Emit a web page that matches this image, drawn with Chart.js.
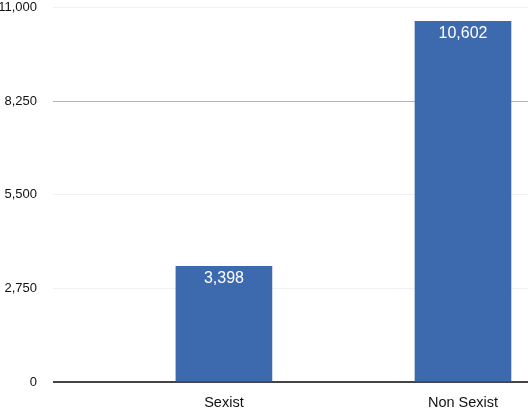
<!DOCTYPE html>
<html>
<head>
<meta charset="utf-8">
<script src="https://cdn.jsdelivr.net/npm/chart.js@4"></script>
<style>
    html, body { margin: 0; padding: 0; background: #fff; }
    #wrap { width: 530px; height: 408px; }
</style>
</head>
<body>
<div id="wrap"><canvas id="chart"></canvas></div>
<script>
    const categories = ['Sexist', 'Non Sexist'];
    const counts = [3398, 10602];
    const yTicks = [0, 2750, 5500, 8250, 11000];

    const barColor = '#3d6aae';
    const fontFamily = '"Liberation Sans", Arial, sans-serif';

    // white value label drawn just inside the top of each bar
    const valueLabels = {
        id: 'valueLabels',
        afterDatasetsDraw(chart) {
            const ctx = chart.ctx;
            const meta = chart.getDatasetMeta(0);
            ctx.save();
            ctx.fillStyle = '#fff';
            ctx.font = '16px ' + fontFamily;
            ctx.textAlign = 'center';
            ctx.textBaseline = 'middle';
            meta.data.forEach((bar, i) => {
                ctx.fillText(counts[i].toLocaleString('en-US'), bar.x, bar.y + 12);
            });
            ctx.restore();
        }
    };

    const ctx = document.getElementById('chart').getContext('2d');
    new Chart(ctx, {
        type: 'bar',
        data: {
            datasets: [{
                data: counts.map((v, i) => ({ x: i + 1, y: v })),
                backgroundColor: barColor,
                barThickness: 96
            }]
        },
        options: {
            responsive: true,
            maintainAspectRatio: false,
            animation: false,
            layout: { padding: { top: 0, right: 2, bottom: 0, left: 0 } },
            plugins: {
                legend: { display: false },
                tooltip: { enabled: false }
            },
            scales: {
                x: {
                    type: 'linear',
                    offset: false,
                    min: 0.285,
                    max: 2.272,
                    grid: { display: false, drawTicks: false },
                    border: { display: false },
                    afterBuildTicks: scale => {
                        scale.ticks = categories.map((c, i) => ({ value: i + 1 }));
                    },
                    afterFit: scale => { scale.height = 26; },
                    ticks: {
                        color: '#111',
                        font: { family: fontFamily, size: 14.5 },
                        padding: 12,
                        autoSkip: false,
                        maxRotation: 0,
                        callback: v => categories[v - 1] || ''
                    }
                },
                y: {
                    min: 0,
                    max: 11000,
                    afterBuildTicks: scale => {
                        scale.ticks = yTicks.map(v => ({ value: v }));
                    },
                    afterFit: scale => { scale.width = 53; },
                    border: { display: false },
                    grid: {
                        drawTicks: true,
                        tickLength: 16,
                        tickColor: 'rgba(0,0,0,0)',
                        color: c => c.tick.value === 0 ? '#444' : (c.tick.value === 8250 ? '#b4b4b4' : '#f1f1f1'),
                        lineWidth: c => c.tick.value === 0 ? 2 : 1
                    },
                    ticks: {
                        color: '#111',
                        font: { family: fontFamily, size: 13 },
                        padding: 0,
                        callback: v => v.toLocaleString('en-US')
                    }
                }
            }
        },
        plugins: [valueLabels]
    });
</script>
</body>
</html>
